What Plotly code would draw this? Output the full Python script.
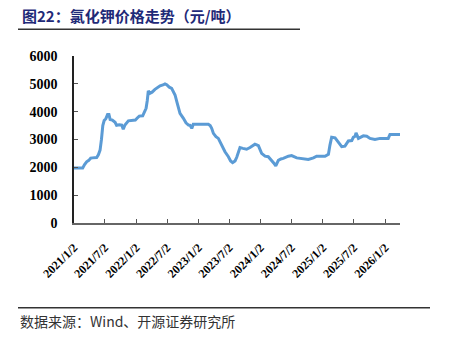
import plotly.graph_objects as go

dates = ["2021-01-02","2021-01-20","2021-02-10","2021-02-22","2021-03-05","2021-03-17","2021-03-30","2021-04-10","2021-04-20","2021-05-05",
"2021-05-15","2021-05-25","2021-06-04","2021-06-12","2021-06-20","2021-06-28","2021-07-08","2021-07-18","2021-07-26","2021-08-02",
"2021-08-15","2021-08-31","2021-09-09","2021-09-25","2021-10-09","2021-10-18","2021-10-28","2021-11-17","2021-12-10","2021-12-28",
"2022-01-10","2022-01-20","2022-02-09","2022-02-20","2022-03-01","2022-03-08","2022-03-14","2022-03-24","2022-04-05","2022-04-22",
"2022-05-10","2022-05-22","2022-06-08","2022-06-20","2022-06-30","2022-07-15","2022-07-29","2022-08-10","2022-08-18","2022-08-31",
"2022-09-10","2022-09-16","2022-10-06","2022-10-15","2022-10-21","2022-11-05","2022-11-14","2022-11-24","2022-12-03","2022-12-31",
"2023-02-01","2023-03-01","2023-03-12","2023-03-21","2023-03-31","2023-04-15","2023-04-29","2023-05-10","2023-05-19","2023-05-28",
"2023-06-07","2023-06-27","2023-07-10","2023-07-22","2023-08-05","2023-08-15","2023-08-24","2023-09-03","2023-09-20","2023-10-12",
"2023-11-01","2023-11-15","2023-11-30","2023-12-10","2023-12-20","2024-01-08","2024-01-28","2024-02-16","2024-03-07","2024-03-20",
"2024-03-31","2024-04-15","2024-04-30","2024-05-14","2024-06-13","2024-07-02","2024-08-01","2024-08-30","2024-09-20","2024-10-08",
"2024-11-07","2024-11-26","2025-01-14","2025-02-03","2025-02-12","2025-02-22","2025-03-14","2025-04-02","2025-04-22","2025-05-11",
"2025-05-31","2025-06-20","2025-06-29","2025-07-10","2025-07-15","2025-07-29","2025-08-27","2025-09-16","2025-10-05","2025-11-03",
"2025-12-03","2026-01-20","2026-01-30","2026-03-30"]

prices = [1980,1980,1970,1980,2100,2200,2250,2330,2340,2340,
2350,2450,2620,3000,3500,3680,3750,3900,3900,3720,
3700,3620,3510,3530,3520,3370,3520,3670,3680,3700,
3780,3840,3850,4000,4120,4400,4750,4660,4700,4800,
4880,4930,4960,5000,4970,4880,4840,4700,4600,4300,
4050,3940,3760,3620,3600,3520,3510,3400,3550,3550,
3550,3550,3500,3400,3220,3100,3040,2900,2800,2650,
2560,2380,2230,2170,2230,2360,2500,2710,2680,2650,
2710,2760,2830,2810,2780,2500,2400,2380,2260,2150,
2050,2250,2300,2320,2400,2420,2340,2320,2300,2280,
2340,2400,2400,2470,2800,3080,3060,2920,2740,2760,
2950,2960,3080,3120,3240,3040,3130,3120,3040,3000,
3040,3040,3180,3180]

tick_dates = ["2021-01-02","2021-07-02","2022-01-02","2022-07-02","2023-01-02","2023-07-02",
              "2024-01-02","2024-07-02","2025-01-02","2025-07-02","2026-01-02"]
tick_labels = ["2021/1/2","2021/7/2","2022/1/2","2022/7/2","2023/1/2","2023/7/2",
               "2024/1/2","2024/7/2","2025/1/2","2025/7/2","2026/1/2"]
y_ticks = [0, 1000, 2000, 3000, 4000, 5000, 6000]

title_text = "图22：氯化钾价格走势（元/吨）"
source_text = "数据来源：Wind、开源证券研究所"

fig = go.Figure()
fig.add_trace(go.Scatter(x=dates, y=prices, mode="lines",
                         line=dict(color="#5B9BD5", width=3), hoverinfo="skip"))

L, R, T, B = 74, 400, 56, 222.7
W, H = 450, 351
pw, ph = R - L, B - T
def px(x): return (x - L) / pw
def py(y): return (B - y) / ph

fig.update_layout(
    width=W, height=H,
    margin=dict(l=L, r=W - R, t=T, b=H - B),
    paper_bgcolor="white", plot_bgcolor="white",
    showlegend=False,
    xaxis=dict(
        type="date", range=["2021-01-02", "2026-03-30"],
        tickvals=tick_dates, ticktext=tick_labels, tickangle=-45,
        ticks="inside", ticklen=4, tickcolor="#555", tickwidth=1,
        showline=True, linecolor="#666", linewidth=1.5, showgrid=False, zeroline=False,
        tickfont=dict(family="Liberation Serif", size=12, color="black", weight="bold"),
        ticklabelstandoff=11,
    ),
    yaxis=dict(
        range=[0, 6000], tickvals=y_ticks,
        ticks="inside", ticklen=4, tickcolor="#555", tickwidth=1,
        showline=True, linecolor="#222", linewidth=1.5, showgrid=False, zeroline=False,
        tickfont=dict(family="Liberation Serif", size=14, color="black", weight="bold"),
        ticklabelstandoff=12,
    ),
    annotations=[
        dict(text=title_text, xref="paper", yref="paper", x=px(20), y=py(16),
             xanchor="left", yanchor="middle", showarrow=False,
             font=dict(family="Noto Sans CJK SC", size=15, color="#1F2A78", weight="bold")),
        dict(text=source_text, xref="paper", yref="paper", x=px(18), y=py(321),
             xanchor="left", yanchor="middle", showarrow=False,
             font=dict(family="Noto Sans CJK SC", size=14, color="#333333")),
    ],
    shapes=[
        dict(type="line", xref="paper", yref="paper", x0=px(18), x1=px(300), y0=py(29.3), y1=py(29.3),
             line=dict(color="#333333", width=1.5)),
        dict(type="line", xref="paper", yref="paper", x0=px(18), x1=px(430), y0=py(307.3), y1=py(307.3),
             line=dict(color="#333333", width=1.5)),
    ],
)

fig.write_html("out.html")
